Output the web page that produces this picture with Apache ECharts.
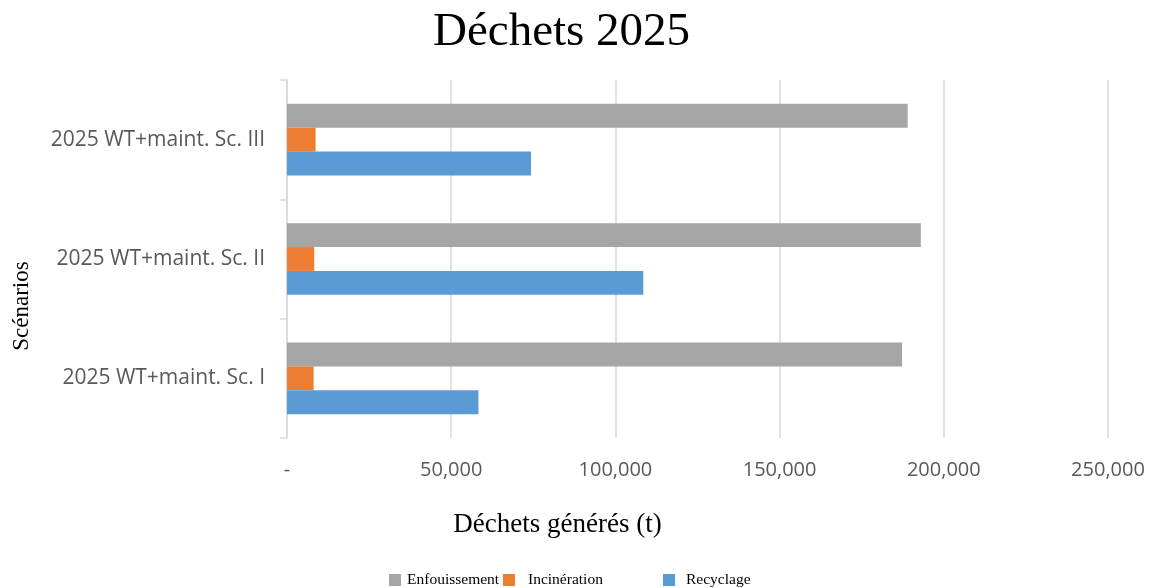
<!DOCTYPE html>
<html>
<head>
<meta charset="utf-8">
<script src="https://cdn.jsdelivr.net/npm/echarts@6/dist/echarts.min.js"></script>
<style>
  html, body { margin: 0; padding: 0; background: #fff; }
  #chart { width: 1156px; height: 588px; }
</style>
</head>
<body>
<div id="chart"></div>
<script>
// Scenarios (bottom to top on the category axis)
const scenarios = ['2025 WT+maint. Sc. I', '2025 WT+maint. Sc. II', '2025 WT+maint. Sc. III'];
// Waste generated per stream, tonnes
const enfouissement = [187300, 193000, 189000];
const incineration = [8100, 8300, 8700];
const recyclage = [58300, 108500, 74300];
const seriesNames = ['Enfouissement', 'Incinération', 'Recyclage'];
const seriesColors = ['#a5a5a5', '#ed7d31', '#5b9bd5'];

const chart = echarts.init(document.getElementById('chart'));

const serif = '"Liberation Serif", "DejaVu Serif", serif';
const sans = '"Open Sans", "Liberation Sans", sans-serif';

function legendAt(i, left, textPad) {
  return {
    show: true,
    data: [seriesNames[i]],
    left: left,
    top: 567,
    itemWidth: 12,
    itemHeight: 12,
    icon: 'rect',
    textStyle: { fontFamily: serif, fontSize: 15.5, color: '#000', padding: [0, 0, 0, textPad] }
  };
}

chart.setOption({
  animation: false,
  title: {
    text: 'Déchets 2025',
    left: 428,
    top: 4,
    textStyle: { fontFamily: serif, fontSize: 47, fontWeight: 'normal', color: '#000' }
  },
  legend: [legendAt(0, 384, 1), legendAt(1, 498, 8), legendAt(2, 658, 6)],
  grid: { left: 287, right: 48, top: 80, bottom: 150, containLabel: false },
  xAxis: {
    type: 'value',
    min: 0,
    max: 250000,
    interval: 50000,
    name: 'Déchets générés (t)',
    nameLocation: 'middle',
    nameGap: 73,
    nameTextStyle: { fontFamily: serif, fontSize: 27, color: '#000', padding: [0, 280, 0, 0] },
    axisLine: { show: false },
    axisTick: { show: false },
    splitLine: { show: true, lineStyle: { color: '#d9d9d9', width: 1.5 } },
    axisLabel: {
      margin: 22,
      fontFamily: sans,
      fontSize: 20,
      color: '#595959',
      formatter: function (v) { return v === 0 ? '-' : v.toLocaleString('en-US'); }
    }
  },
  yAxis: {
    type: 'category',
    data: scenarios,
    name: 'Scénarios',
    nameLocation: 'middle',
    nameGap: 254,
    nameRotate: 90,
    nameTextStyle: { fontFamily: serif, fontSize: 23, color: '#000', padding: [0, 94, 0, 0] },
    axisLine: { show: true, lineStyle: { color: '#d9d9d9', width: 1.5 } },
    axisTick: { show: true, length: 7, lineStyle: { color: '#d9d9d9', width: 1.5 } },
    axisLabel: { margin: 22, fontFamily: sans, fontSize: 21, color: '#595959' }
  },
  series: [
    { name: seriesNames[0], type: 'bar', data: enfouissement, itemStyle: { color: seriesColors[0] }, barGap: '0%', barCategoryGap: '40%' },
    { name: seriesNames[1], type: 'bar', data: incineration, itemStyle: { color: seriesColors[1] } },
    { name: seriesNames[2], type: 'bar', data: recyclage, itemStyle: { color: seriesColors[2] } }
  ]
});
</script>
</body>
</html>
